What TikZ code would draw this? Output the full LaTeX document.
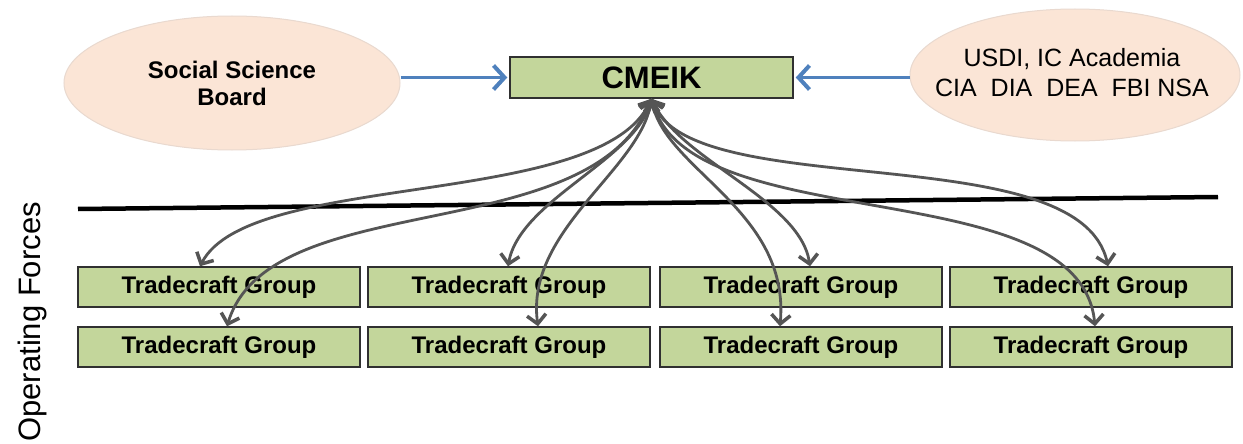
\documentclass[tikz,border=0pt]{standalone}
\usepackage{fontspec}
\setmainfont{Liberation Sans}
\usetikzlibrary{shapes.geometric,arrows.meta}
\definecolor{peach}{HTML}{FBE5D6}
\definecolor{peachline}{HTML}{E9D9CF}
\definecolor{olive}{HTML}{C3D69B}
\definecolor{boxline}{HTML}{303030}
\definecolor{curvegray}{HTML}{555555}
\definecolor{arrowblue}{HTML}{4F81BD}
\tikzset{
  ovalbox/.style={ellipse, fill=peach, draw=peachline, line width=1pt, inner sep=0pt, align=center},
  tcbox/.style={rectangle, fill=olive, draw=boxline, line width=1.5pt, minimum width=282pt, minimum height=40pt, inner sep=0pt,
    font=\fontsize{24}{28}\selectfont\bfseries},
  conn/.style={draw=curvegray, line width=2.8pt, {Straight Barb[length=9pt,width=19pt,line width=3.5pt]}-{Straight Barb[length=9pt,width=19pt,line width=3.5pt]}},
  bluearrow/.style={draw=arrowblue, line width=3.5pt, -{Straight Barb[length=11pt,width=24pt,line width=4pt]}},
}
\begin{document}
\begin{tikzpicture}[x=1pt,y=-1pt]
\useasboundingbox (0,0) rectangle (1243,444);
\clip (0,0) rectangle (1243,444);
\fill[white] (0,0) rectangle (1243,444);

% ellipses
\node[ovalbox, minimum width=336pt, minimum height=134pt, font=\fontsize{24}{27}\selectfont\bfseries] (ssb) at (232,83) {Social Science\\Board};
\node[ovalbox, minimum width=330pt, minimum height=132pt] (usdi) at (1075,75) {};
\node[font=\fontsize{25}{30}\selectfont, align=center, inner sep=0pt] (usditxt) at (1072,73) {USDI, IC Academia\\CIA\ \ DIA\ \ DEA\ \ FBI NSA};

% CMEIK
\node[rectangle, fill=olive, draw=boxline, line width=1.5pt, minimum width=283pt, minimum height=41pt, inner sep=0pt,
  font=\fontsize{31}{34}\selectfont\bfseries] (cm) at (651.5,77.5) {CMEIK};

% blue arrows
\draw[bluearrow] (ssb.east |- cm.west) -- ([xshift=-2pt]cm.west);
\draw[bluearrow] (usdi.west |- cm.east) -- ([xshift=2pt]cm.east);

% horizontal line
\coordinate (l1) at (78,209);
\coordinate (l2) at (1218,197);
\draw[line width=4.5pt] (l1) -- (l2);

% Operating Forces
\node[rotate=90, anchor=base east, inner sep=0pt, font=\fontsize{31}{34}\selectfont] (opf) at (40,202) {Operating Forces};

% Tradecraft boxes
\node[tcbox] (t11) at (219,287) {Tradecraft Group};
\node[tcbox] (t12) at (509,287) {Tradecraft Group};
\node[tcbox] (t13) at (801,287) {Tradecraft Group};
\node[tcbox] (t14) at (1091,287) {Tradecraft Group};
\node[tcbox] (t21) at (219,347) {Tradecraft Group};
\node[tcbox] (t22) at (509,347) {Tradecraft Group};
\node[tcbox] (t23) at (801,347) {Tradecraft Group};
\node[tcbox] (t24) at (1091,347) {Tradecraft Group};

% curves
\draw[conn] (cm.south) .. controls (600,210) and (250,170) .. ([xshift=-19pt]t11.north);
\draw[conn] (cm.south) .. controls (590,250) and (270,185) .. ([xshift=8pt]t21.north);
\draw[conn] (cm.south) .. controls (635,160) and (520,200) .. ([xshift=-1pt]t12.north);
\draw[conn] (cm.south) .. controls (640,170) and (525,230) .. ([xshift=29pt]t22.north);
\draw[conn] (cm.south) .. controls (665,170) and (790,210) .. ([xshift=-21pt]t23.north);
\draw[conn] (cm.south) .. controls (680,160) and (800,200) .. ([xshift=9pt]t13.north);
\draw[conn] (cm.south) .. controls (690,240) and (1080,170) .. ([xshift=4pt]t24.north);
\draw[conn] (cm.south) .. controls (690,205) and (1080,135) .. ([xshift=17pt]t14.north);
\end{tikzpicture}
\end{document}
